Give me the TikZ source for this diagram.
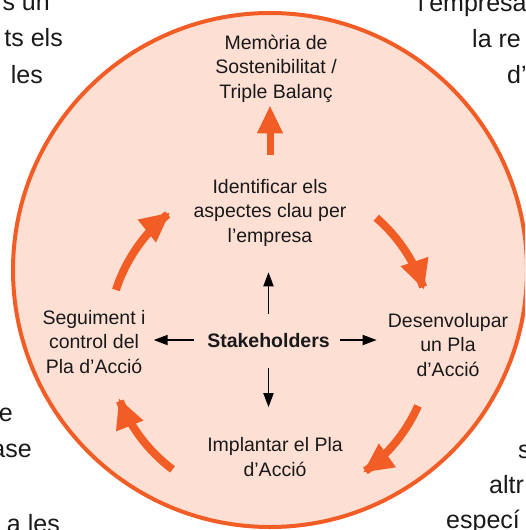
\documentclass[tikz,border=0pt]{standalone}
\usepackage{fontspec}
\setmainfont{Liberation Sans}
\usetikzlibrary{arrows.meta,calc}
\definecolor{cycorange}{RGB}{242,93,38}
\definecolor{cycfill}{RGB}{253,223,212}
\definecolor{inkdark}{RGB}{25,25,25}
\begin{document}
\begin{tikzpicture}[x=1pt,y=-1pt,
  lbl/.style={align=center, inner sep=0pt, anchor=base, text=inkdark,
    font=\fontsize{19.5}{24.5}\selectfont},
  bgtxt/.style={inner sep=0pt, text=inkdark, font=\fontsize{25}{30}\selectfont},
  blk/.style={line width=1.8pt, -{Triangle[width=10pt,length=14pt]}},
  orng/.style={cycorange, line width=8pt, -{Triangle[width=27pt,length=30pt]}},
  orngup/.style={cycorange, line width=7pt, -{Triangle[width=24pt,length=28pt]}}]
\useasboundingbox (0,0) rectangle (525,530);
\clip (0,0) rectangle (525,530);
% background page text
\node[bgtxt, anchor=base east] (b1) at (50,10) {s un};
\node[bgtxt, anchor=base east] (b2) at (63,46) {ts els};
\node[bgtxt, anchor=base east] (b3) at (43,83) {les};
\node[bgtxt, anchor=base east] (b4) at (13,421) {e};
\node[bgtxt, anchor=base east] (b5) at (32,457) {ase};
\node[bgtxt, anchor=base east] (b6) at (60,532) {a les};
\node[bgtxt, anchor=base west] (b7) at (418,12) {l’empresa};
\node[bgtxt, anchor=base west] (b8) at (472,47) {la re};
\node[bgtxt, anchor=base west] (b9) at (507,83) {d’};
\node[bgtxt, anchor=base west] (b10) at (518,458) {s};
\node[bgtxt, anchor=base west] (b11) at (489,493) {altr};
\node[bgtxt, anchor=base west] (b12) at (446,528) {especí};
% big disc
\node[circle, draw=cycorange, fill=cycfill, line width=4pt, minimum size=514pt, inner sep=0pt] (disc) at (270,270) {};
% labels (base anchor = baseline of last line)
\node[lbl] (mem) at (276,98) {Memòria de\\Sostenibilitat /\\Triple Balanç};
\node[lbl] (ident) at (270,242) {Identificar els\\aspectes clau per\\l’empresa};
\node[lbl] (seg) at (94,373) {Seguiment i\\control del\\Pla d’Acció};
\node[lbl] (des) at (448,376) {Desenvolupar\\un Pla\\d’Acció};
\node[lbl] (impl) at (275,476) {Implantar el Pla\\d’Acció};
\node[lbl, font=\bfseries\fontsize{19.5}{24.5}\selectfont] (stake) at (268.5,347) {Stakeholders};
% orange up arrow
\draw[orngup, shorten <=24pt, shorten >=3pt] (ident.north) -- (ident.north |- mem.south);
% cycle arrows
\draw[orng] plot[domain=198:232, samples=25, smooth] ({270+162*cos(\x)},{340+162*sin(\x)});
\draw[orng] plot[domain=311:342, samples=25, smooth] ({270+162*cos(\x)},{340+162*sin(\x)});
\draw[orng] plot[domain=24:55, samples=25, smooth] ({270+162*cos(\x)},{340+162*sin(\x)});
\draw[orng] plot[domain=127:159, samples=25, smooth] ({270+162*cos(\x)},{340+162*sin(\x)});
% black arrows
\draw[blk, shorten <=19pt, shorten >=26pt] (stake.north) -- (stake.north |- ident.south);
\draw[blk, shorten <=21pt, shorten >=30pt] (stake.south) -- (stake.south |- impl.north);
\draw[blk, shorten <=13.5pt, shorten >=8pt] (stake.west) -- (stake.west -| seg.east);
\draw[blk, shorten <=10.5pt, shorten >=11pt] (stake.east) -- (stake.east -| des.west);
\end{tikzpicture}
\end{document}
